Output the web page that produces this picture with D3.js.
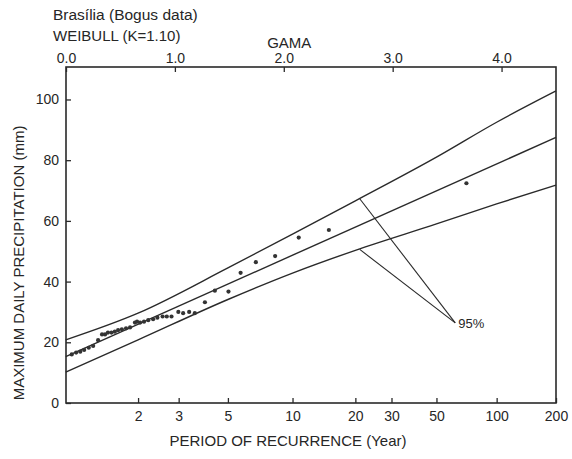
<!DOCTYPE html>
<html>
<head>
<meta charset="utf-8">
<script src="https://d3js.org/d3.v7.min.js"></script>
<style>
  body { margin: 0; background: #fff; }
  svg text { font-family: "Liberation Sans", Arial, sans-serif; fill: #262626; }
</style>
</head>
<body>
<svg width="572" height="459"></svg>
<script>
// observed maxima: period of recurrence (years) and precipitation (mm)
var pointYears = [1.09, 1.13, 1.17, 1.21, 1.26, 1.31, 1.37, 1.42, 1.46, 1.50, 1.55, 1.60, 1.65, 1.71,
    1.78, 1.85, 1.94, 1.98, 2.04, 2.12, 2.21, 2.32, 2.42, 2.55, 2.66, 2.79, 2.99, 3.14, 3.34, 3.54,
    3.93, 4.36, 5.03, 5.72, 6.73, 8.28, 10.7, 14.9, 70.5];
var pointMm = [16.0, 16.6, 16.9, 17.5, 18.2, 18.8, 20.7, 22.6, 22.6, 23.2, 23.2, 23.5, 24.0, 24.3,
    24.6, 24.9, 26.5, 26.8, 26.5, 26.8, 27.3, 27.6, 28.1, 28.5, 28.5, 28.5, 30.0, 29.6, 30.0, 29.6,
    33.2, 37.0, 36.7, 42.9, 46.4, 48.4, 54.5, 57.0, 72.4];

// fitted line
var fitYears = [1.04, 200];
var fitMm = [15.3, 87.5];

// 95% band, read at these periods
var bandYears = [1.04, 2, 5, 10, 20, 50, 100, 200];
var upperMm = [20.8, 29.6, 44.5, 55.6, 66.6, 81.0, 92.5, 102.8];
var lowerMm = [10.2, 20.8, 34.1, 42.8, 50.3, 59.0, 65.6, 71.8];

// "95%" note: anchors on the band and the label point
var noteYears = [21, 21];
var noteMm = [67.3, 50.6];
var labelYears = 62;
var labelMm = 26.4;

// tick labels
var periodTicks = [2, 3, 5, 10, 20, 30, 50, 100, 200];
var gamaTicks = [0, 1, 2, 3, 4];
var mmTicks = [0, 20, 40, 60, 80, 100];

var K = 1.10;
// Weibull reduced variate for a return period
function reduced(T) { return Math.pow(Math.log(T), 1 / K); }

var svg = d3.select("svg"),
    margin = { top: 67, right: 16, bottom: 56, left: 66 },
    width = +svg.attr("width") - margin.left - margin.right,
    height = +svg.attr("height") - margin.top - margin.bottom,
    g = svg.append("g").attr("transform", "translate(" + margin.left + "," + margin.top + ")");

var ink = "#2a2a2a";

// scales
var x = d3.scaleLinear().domain([0.055, reduced(200)]).range([0, width]);
var gama = d3.scaleLinear().domain([0, 4.5]).range([0, width]);
var y = d3.scaleLinear().domain([0, 110.7]).range([height, 0]);

function px(T) { return x(reduced(T)); }

// axes, ticks pointing inward
var xAxisG = g.append("g")
    .attr("transform", "translate(0," + height + ")")
    .call(d3.axisBottom(x)
        .tickValues(periodTicks.map(reduced))
        .tickFormat(function (d, i) { return periodTicks[i]; })
        .tickSize(-5).tickPadding(8));

var yAxisG = g.append("g")
    .call(d3.axisLeft(y).tickValues(mmTicks).tickSize(-5).tickPadding(7));

var gamaAxisG = g.append("g")
    .call(d3.axisTop(gama).tickValues(gamaTicks).tickFormat(d3.format(".1f"))
        .tickSize(-5).tickPadding(4));

[xAxisG, yAxisG, gamaAxisG].forEach(function (a) {
    a.select(".domain").remove();
    a.selectAll("line").attr("stroke", ink).attr("stroke-width", 1.3);
    a.selectAll("text").attr("font-size", 14).attr("font-family", null).style("fill", "#262626");
});

// frame
g.append("rect")
    .attr("width", width)
    .attr("height", height)
    .attr("fill", "none")
    .attr("stroke", ink)
    .attr("stroke-width", 1.6);

// fitted line and band
var line = d3.line()
    .x(function (d) { return px(d[0]); })
    .y(function (d) { return y(d[1]); })
    .curve(d3.curveMonotoneX);

var series = [
    d3.zip(fitYears, fitMm),
    d3.zip(bandYears, upperMm),
    d3.zip(bandYears, lowerMm)
];

g.selectAll(".curve")
    .data(series)
    .enter().append("path")
    .attr("class", "curve")
    .attr("d", line)
    .attr("fill", "none")
    .attr("stroke", ink)
    .attr("stroke-width", 1.4);

// points
g.selectAll(".dot")
    .data(d3.zip(pointYears, pointMm))
    .enter().append("circle")
    .attr("class", "dot")
    .attr("cx", function (d) { return px(d[0]); })
    .attr("cy", function (d) { return y(d[1]); })
    .attr("r", 2.1)
    .attr("fill", "#333");

// 95% leaders
g.selectAll(".leader")
    .data(d3.zip(noteYears, noteMm))
    .enter().append("line")
    .attr("class", "leader")
    .attr("x1", function (d) { return px(d[0]); })
    .attr("y1", function (d) { return y(d[1]); })
    .attr("x2", px(labelYears))
    .attr("y2", y(labelMm))
    .attr("stroke", ink)
    .attr("stroke-width", 1.1);

g.append("text")
    .attr("x", px(labelYears) + 3)
    .attr("y", y(labelMm) + 5)
    .attr("font-size", 13)
    .text("95%");

// titles
svg.append("text")
    .attr("x", 53)
    .attr("y", 20)
    .attr("font-size", 15.5)
    .text("Brasília (Bogus data)");

svg.append("text")
    .attr("x", 53)
    .attr("y", 41)
    .attr("font-size", 15)
    .text("WEIBULL (K=1.10)");

svg.append("text")
    .attr("x", margin.left + gama(2.05))
    .attr("y", 48)
    .attr("text-anchor", "middle")
    .attr("font-size", 15)
    .text("GAMA");

svg.append("text")
    .attr("x", 288)
    .attr("y", 446)
    .attr("text-anchor", "middle")
    .attr("font-size", 15)
    .text("PERIOD OF RECURRENCE (Year)");

svg.append("text")
    .attr("transform", "translate(24," + 263 + ") rotate(-90)")
    .attr("text-anchor", "middle")
    .attr("font-size", 15)
    .text("MAXIMUM DAILY PRECIPITATION (mm)");
</script>
</body>
</html>
